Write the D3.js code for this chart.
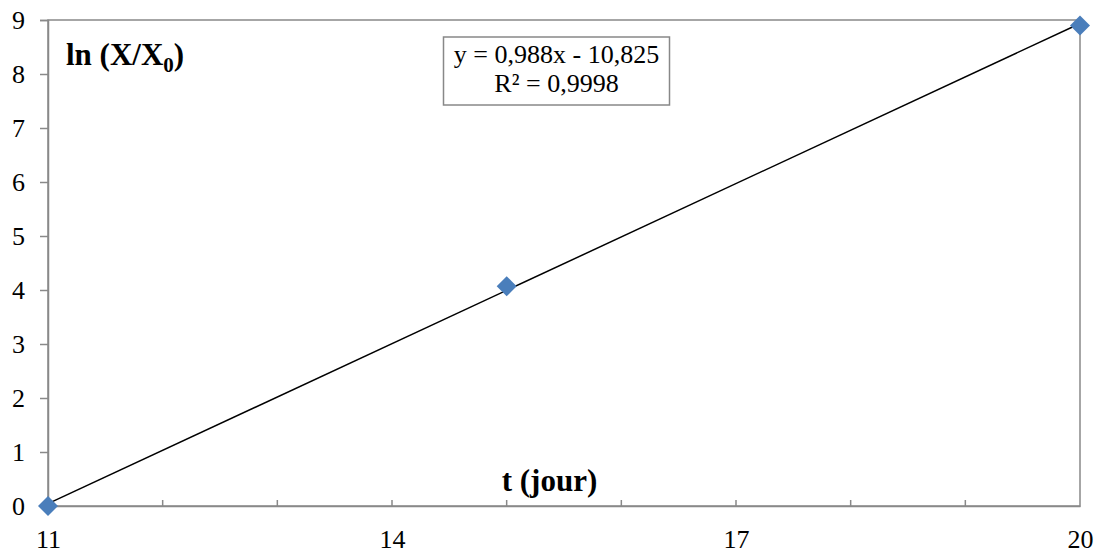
<!DOCTYPE html>
<html><head><meta charset="utf-8">
<script src="https://cdn.jsdelivr.net/npm/d3@7"></script>
<style>body{margin:0;background:#fff}svg{display:block}</style>
</head><body>
<script>
const tValues = [11, 15, 20];
const lnValues = [0, 4.07, 8.9];
const xTickLabels = [11, 14, 17, 20];
const xMinorTicks = [12, 13, 15, 16, 18, 19];
const yTickLabels = [0,1,2,3,4,5,6,7,8,9];
const slope = 0.988, intercept = -10.825;
const eqText = "y = 0,988x - 10,825";
const r2Text = "R² = 0,9998";

const W = 1104, H = 553;
const svg = d3.select("body").append("svg").attr("width", W).attr("height", H);
const x = d3.scaleLinear().domain([11, 20]).range([48, 1080]);
const y = d3.scaleLinear().domain([0, 9]).range([506, 20]);
const font = "'Liberation Serif','Times New Roman',serif";
const grey = "#898989";

// plot border (top/right)
svg.append("rect").attr("x", x(11)).attr("y", y(9)).attr("width", x(20)-x(11)).attr("height", y(0)-y(9))
  .attr("fill", "none").attr("stroke", grey).attr("stroke-width", 1.5);

// y axis
const yAxis = svg.append("g").attr("transform", `translate(${x(11)},0)`)
  .call(d3.axisLeft(y).tickValues(yTickLabels).tickSize(8).tickPadding(15).tickFormat(d3.format("d")));
yAxis.attr("font-size", null).attr("font-family", null);
yAxis.select(".domain").attr("stroke", grey).attr("stroke-width", 1.5);
yAxis.selectAll(".tick line").attr("stroke", grey).attr("stroke-width", 1.5);
yAxis.selectAll("text").style("font-family", font).style("font-size", "26px").attr("fill", "#000");

// x axis
const xAxis = svg.append("g").attr("transform", `translate(0,${y(0)})`)
  .call(d3.axisBottom(x).tickValues(xTickLabels).tickSize(0).tickPadding(0).tickFormat(d3.format("d")));
xAxis.attr("font-size", null).attr("font-family", null);
xAxis.select(".domain").attr("stroke", grey).attr("stroke-width", 1.5);
xAxis.selectAll("text").style("font-family", font).style("font-size", "26px").attr("fill", "#000")
  .attr("y", 42).attr("dy", null);
svg.append("g").selectAll("line").data(xMinorTicks.concat([14,17])).join("line")
  .attr("x1", d => x(d)).attr("x2", d => x(d)).attr("y1", y(0)).attr("y2", y(0)-6)
  .attr("stroke", grey).attr("stroke-width", 1.5);

// trend line
svg.append("line").attr("x1", x(11)).attr("y1", y(slope*11+intercept))
  .attr("x2", x(20)).attr("y2", y(slope*20+intercept)).attr("stroke", "#000").attr("stroke-width", 1.5);

// markers
const pts = tValues.map((t, i) => [t, lnValues[i]]);
svg.append("g").selectAll("path").data(pts).join("path")
  .attr("d", d3.symbol().type(d3.symbolSquare).size(200))
  .attr("transform", d => `translate(${x(d[0])},${y(d[1])}) rotate(45)`)
  .attr("fill", "#4a7ebb");

// equation box
svg.append("rect").attr("x", 443.5).attr("y", 37).attr("width", 226).attr("height", 68)
  .attr("fill", "#fff").attr("stroke", "#888").attr("stroke-width", 1.5);
svg.append("text").attr("x", 556.5).attr("y", 63).attr("text-anchor", "middle")
  .style("font-family", font).style("font-size", "26px").text(eqText);
svg.append("text").attr("x", 556.5).attr("y", 92).attr("text-anchor", "middle")
  .style("font-family", font).style("font-size", "26px").text(r2Text);

// axis titles
const yt = svg.append("text").attr("x", 66).attr("y", 65).style("font-family", font)
  .style("font-size", "31px").attr("font-weight", "bold");
yt.append("tspan").text("ln (X/X");
yt.append("tspan").style("font-size", "21px").attr("dy", 7).text("0");
yt.append("tspan").attr("dy", -7).text(")");
svg.append("text").attr("x", 549.5).attr("y", 491).attr("text-anchor", "middle").style("font-family", font)
  .style("font-size", "31px").attr("font-weight", "bold").text("t (jour)");
</script>
</body></html>
